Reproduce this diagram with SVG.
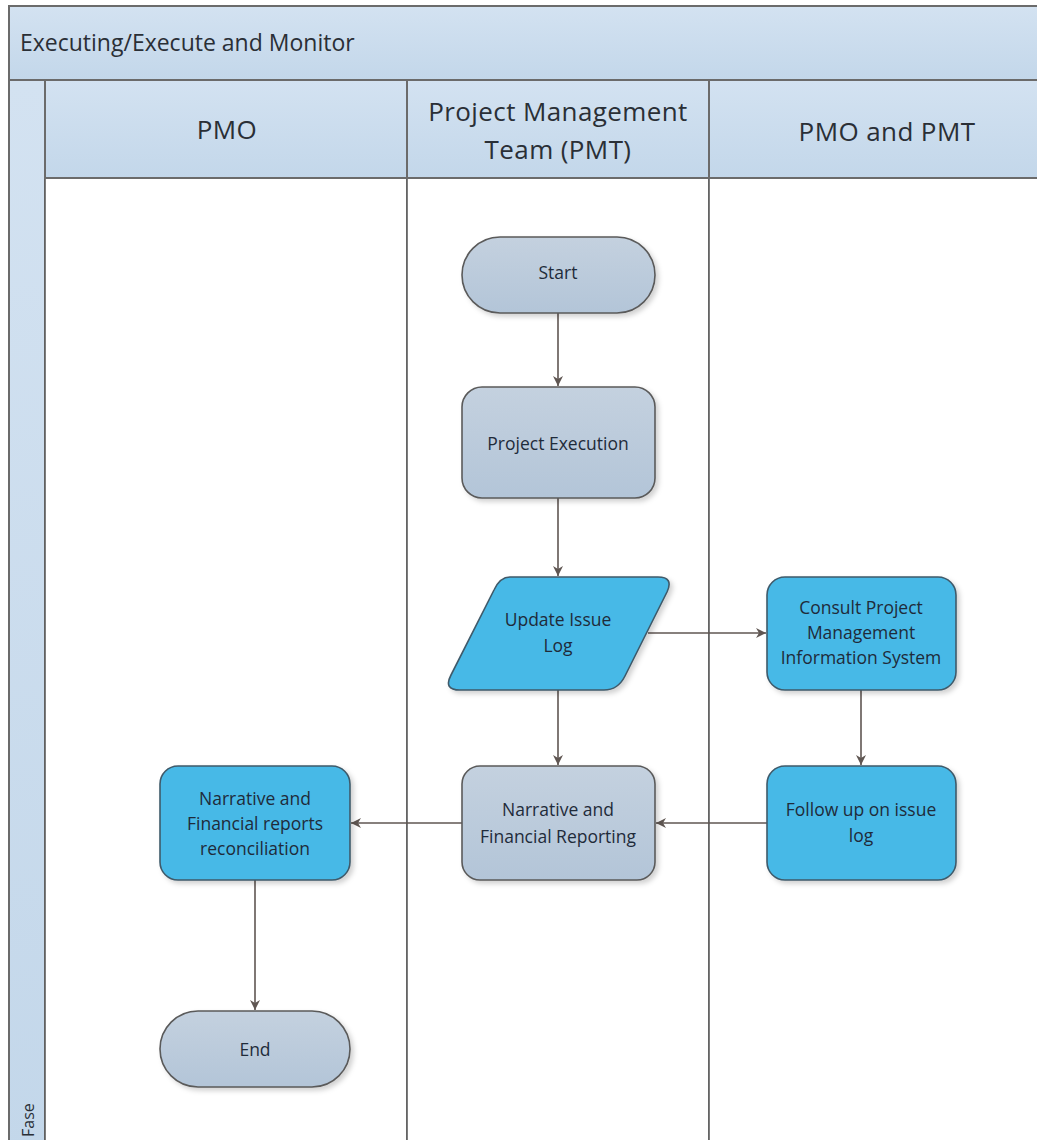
<svg xmlns="http://www.w3.org/2000/svg" width="1037" height="1140" viewBox="0 0 1037 1140">
  <style>
    .band { fill: url(#hdr); stroke: #6b6b6b; stroke-width: 2; }
    .lane { fill: #ffffff; stroke: #5e5e5e; stroke-width: 1.6; }
    .htxt { font-family: "Open Sans", "Noto Sans", sans-serif; font-size: 26px; letter-spacing: 0.4px; fill: #2a2f36; text-anchor: middle; }
    .ttl { font-family: "Open Sans", "Noto Sans", sans-serif; font-size: 23px; fill: #2a2f36; }
    .grey { fill: url(#gr); stroke: #5a5a5a; stroke-width: 1.6; filter: url(#sh); }
    .blue { fill: #47b9e7; stroke: #3f5a6a; stroke-width: 1.6; filter: url(#sh); }
    .ntxt { font-family: "Open Sans", "Noto Sans", sans-serif; font-size: 17.5px; fill: #1f2b3a; text-anchor: middle; }
    .conn { stroke: #5f5652; stroke-width: 1.6; fill: none; marker-end: url(#arr); }
  </style>
  <defs>
    <linearGradient id="hdr" x1="0" y1="0" x2="0" y2="1">
      <stop offset="0" stop-color="#d3e2f1"/>
      <stop offset="1" stop-color="#c3d7ea"/>
    </linearGradient>
    <linearGradient id="gr" x1="0" y1="0" x2="0" y2="1">
      <stop offset="0" stop-color="#c4d1df"/>
      <stop offset="1" stop-color="#b3c5d8"/>
    </linearGradient>
    <filter id="sh" x="-10%" y="-10%" width="125%" height="125%">
      <feDropShadow dx="3" dy="3" stdDeviation="2.5" flood-color="#000" flood-opacity="0.18"/>
    </filter>
    <marker id="arr" viewBox="0 0 10 10" refX="10" refY="5" markerWidth="10" markerHeight="10" markerUnits="userSpaceOnUse" orient="auto">
      <path d="M0,0 L10,5 L0,10 L3,5 Z" fill="#5f5652"/>
    </marker>
  </defs>

  <!-- pool frame -->
  <g id="pool">
    <rect x="9" y="6" width="1040" height="1150" fill="#ffffff" stroke="#6b6b6b" stroke-width="2"/>
    <rect class="band" x="9" y="6" width="1040" height="74"/>
    <text class="ttl" x="20" y="51">Executing/Execute and Monitor</text>
    <rect class="band" x="9" y="80" width="36" height="1080"/>
    <text font-family="'Open Sans', 'Noto Sans', sans-serif" font-size="16" fill="#2a2f36" transform="translate(34,1137) rotate(-90)">Fase</text>
  </g>

  <!-- lanes -->
  <g id="lane-pmo">
    <rect class="lane" x="45" y="178" width="362" height="980"/>
    <rect class="band" x="45" y="80" width="362" height="98"/>
    <text class="htxt" x="227" y="139">PMO</text>
  </g>
  <g id="lane-pmt">
    <rect class="lane" x="407" y="178" width="302" height="980"/>
    <rect class="band" x="407" y="80" width="302" height="98"/>
    <text class="htxt" x="558" y="121">Project Management</text>
    <text class="htxt" x="558" y="159">Team (PMT)</text>
  </g>
  <g id="lane-both">
    <rect class="lane" x="709" y="178" width="340" height="980"/>
    <rect class="band" x="709" y="80" width="340" height="98"/>
    <text class="htxt" x="887" y="141">PMO and PMT</text>
  </g>

  <!-- connectors -->
  <g id="connectors">
    <line class="conn" x1="558" y1="313" x2="558" y2="386"/>
    <line class="conn" x1="558" y1="498" x2="558" y2="576"/>
    <line class="conn" x1="648" y1="633" x2="766" y2="633"/>
    <line class="conn" x1="558" y1="690" x2="558" y2="765"/>
    <line class="conn" x1="861" y1="690" x2="861" y2="765"/>
    <line class="conn" x1="767" y1="823" x2="656" y2="823"/>
    <line class="conn" x1="462" y1="823" x2="351" y2="823"/>
    <line class="conn" x1="255" y1="880" x2="255" y2="1010"/>
  </g>

  <!-- nodes -->
  <g id="start">
    <rect class="grey" x="462" y="237" width="193" height="76" rx="38"/>
    <text class="ntxt" x="558" y="279">Start</text>
  </g>
  <g id="project-execution">
    <rect class="grey" x="462" y="387" width="193" height="111" rx="20"/>
    <text class="ntxt" x="558" y="450">Project Execution</text>
  </g>
  <g id="update-issue-log">
    <path class="blue" d="M510,577 L658,577 Q674,577 667,592 L625,676 Q618,690 604,690 L460,690 Q443,690 451,675 L494,590 Q500,577 510,577 Z"/>
    <text class="ntxt" x="558" y="626">Update Issue</text>
    <text class="ntxt" x="558" y="652">Log</text>
  </g>
  <g id="consult-pmis">
    <rect class="blue" x="767" y="577" width="189" height="113" rx="18"/>
    <text class="ntxt" x="861" y="614">Consult Project</text>
    <text class="ntxt" x="861" y="639">Management</text>
    <text class="ntxt" x="861" y="664">Information System</text>
  </g>
  <g id="follow-up">
    <rect class="blue" x="767" y="766" width="189" height="114" rx="18"/>
    <text class="ntxt" x="861" y="816">Follow up on issue</text>
    <text class="ntxt" x="861" y="842">log</text>
  </g>
  <g id="reporting">
    <rect class="grey" x="462" y="766" width="193" height="114" rx="18"/>
    <text class="ntxt" x="558" y="816">Narrative and</text>
    <text class="ntxt" x="558" y="843">Financial Reporting</text>
  </g>
  <g id="reconciliation">
    <rect class="blue" x="160" y="766" width="190" height="114" rx="18"/>
    <text class="ntxt" x="255" y="805">Narrative and</text>
    <text class="ntxt" x="255" y="830">Financial reports</text>
    <text class="ntxt" x="255" y="855">reconciliation</text>
  </g>
  <g id="end">
    <rect class="grey" x="160" y="1011" width="190" height="76" rx="38"/>
    <text class="ntxt" x="255" y="1056">End</text>
  </g>
</svg>
